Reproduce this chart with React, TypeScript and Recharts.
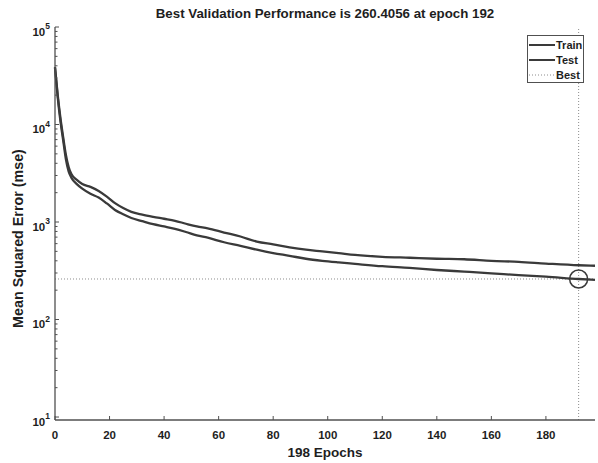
import { LineChart, Line, XAxis, YAxis, ReferenceLine, ReferenceDot, Legend } from 'recharts';

// performance curve (mse per epoch)
const epochs = [0, 1, 2, 3, 4, 5, 6, 8, 10, 13, 16, 19, 22, 25, 28, 32, 36, 40, 44, 48, 52, 56, 62, 68, 74, 80, 86, 92, 98, 104, 110, 120, 130, 140, 150, 160, 170, 180, 192, 198];
const trainMse = [38900, 20000, 11600, 7400, 4880, 3670, 3100, 2700, 2450, 2290, 2080, 1820, 1560, 1390, 1270, 1190, 1130, 1080, 1030, 960, 900, 860, 780, 710, 630, 590, 550, 520, 500, 480, 460, 440, 430, 420, 415, 400, 390, 375, 360, 356];
const testMse = [38000, 19000, 10800, 6900, 4400, 3300, 2850, 2450, 2200, 1950, 1780, 1550, 1330, 1200, 1100, 1020, 950, 900, 850, 790, 730, 690, 620, 570, 520, 480, 450, 420, 400, 385, 372, 352, 338, 322, 310, 298, 285, 275, 260.4, 255];

const seriesNames = ['Train', 'Test'];
const bestEpoch = 192;
const bestValue = 260.4056;
const totalEpochs = 198;

const xTicks = [0, 20, 40, 60, 80, 100, 120, 140, 160, 180];
const yMajor = [10, 100, 1000, 10000, 100000];
const yMinorSteps = [2, 3, 4, 5, 6, 7, 8, 9];
const yTicks = [...yMajor, ...yMajor.slice(0, -1).flatMap((d) => yMinorSteps.map((m) => d * m))];

const FONT = '"Liberation Sans", Arial, Helvetica, sans-serif';
const INK = '#1e1e1e';
const AXIS = '#505050';
const CURVE = '#3a3a3a';
const DOTTED = '#8c8c8c';

const data = epochs.map((e, i) => ({ epoch: e, train: trainMse[i], test: testMse[i] }));

function YTick(props: any) {
  const { x, y, payload } = props;
  const v = payload.value;
  const ax = x + 5;
  const major = yMajor.includes(v);
  return (
    <g>
      <line x1={ax} x2={ax + (major ? 4 : 2.5)} y1={y} y2={y} stroke={AXIS} strokeWidth={1} />
      {major && (
        <text x={x} y={y + 8.5} textAnchor="end" fontFamily={FONT} fontWeight={700} fontSize={11.5} fill={INK}>
          10<tspan dy={-6.5} fontSize={8.5}>{Math.round(Math.log10(v))}</tspan>
        </text>
      )}
    </g>
  );
}

function XTick(props: any) {
  const { x, y, payload } = props;
  return (
    <g>
      <line x1={x} x2={x} y1={y} y2={y - 4} stroke={AXIS} strokeWidth={1} />
      <text x={x} y={y + 18.5} textAnchor="middle" fontFamily={FONT} fontWeight={700} fontSize={11.5} fill={INK}>
        {payload.value}
      </text>
    </g>
  );
}

function LegendBox({ payload }: any) {
  const items = [...(payload || [])].sort((a: any, b: any) => seriesNames.indexOf(a.value) - seriesNames.indexOf(b.value));
  const rows = [
    ...items.map((p: any) => ({ name: p.value, dash: undefined as string | undefined, color: CURVE, w: 2 })),
    { name: 'Best', dash: '1 2', color: DOTTED, w: 1 },
  ];
  return (
    <svg width={57} height={48} style={{ display: 'block' }}>
      <rect x={0.5} y={0.5} width={56} height={47} fill="#fff" stroke={AXIS} strokeWidth={1} />
      {rows.map((r, i) => (
        <g key={r.name}>
          <line x1={2} x2={28} y1={10 + i * 15} y2={10 + i * 15} stroke={r.color} strokeWidth={r.w} strokeDasharray={r.dash} />
          <text x={29} y={14 + i * 15} fontFamily={FONT} fontWeight={700} fontSize={11} fill={INK}>{r.name}</text>
        </g>
      ))}
    </svg>
  );
}

export default function App() {
  return (
    <div style={{ position: 'absolute', left: 0, top: 0, width: 598, height: 463, background: '#fff', fontFamily: FONT }}>
      <div style={{ position: 'absolute', left: 55, width: 540, top: 5, textAlign: 'center', fontWeight: 700, fontSize: 13.3, color: INK, lineHeight: '18px', whiteSpace: 'nowrap' }}>
        Best Validation Performance is {bestValue} at epoch {bestEpoch}
      </div>
      <LineChart width={598} height={463} data={data} margin={{ top: 27, right: 3, bottom: 0, left: 0 }}>
        <XAxis
          dataKey="epoch"
          type="number"
          domain={[0, totalEpochs]}
          ticks={xTicks}
          interval={0}
          height={43}
          tickSize={0}
          tickMargin={0}
          tickLine={false}
          axisLine={{ stroke: AXIS, strokeWidth: 1.3 }}
          tick={(p: any) => <XTick {...p} />}
          label={{ value: `${totalEpochs} Epochs`, position: 'insideBottom', offset: 6, fill: INK, fontSize: 13.5, fontWeight: 700, fontFamily: FONT }}
        />
        <YAxis
          scale="log"
          domain={[9.32, 100000]}
          allowDataOverflow
          ticks={yTicks}
          interval={0}
          width={55}
          tickSize={0}
          tickMargin={5}
          tickLine={false}
          axisLine={{ stroke: AXIS, strokeWidth: 1.3 }}
          tick={(p: any) => <YTick {...p} />}
          label={{
            content: ({ viewBox }: any) => {
              const cx = 22.5;
              const cy = viewBox.y + viewBox.height / 2 + 15;
              return (
                <text x={cx} y={cy} transform={`rotate(-90 ${cx} ${cy})`} textAnchor="middle" fontFamily={FONT} fontWeight={700} fontSize={14.3} fill={INK}>
                  Mean Squared Error  (mse)
                </text>
              );
            },
          }}
        />
        <ReferenceLine y={bestValue} stroke={DOTTED} strokeDasharray="1 2" strokeWidth={1} />
        <ReferenceLine x={bestEpoch} stroke={DOTTED} strokeDasharray="1 2" strokeWidth={1} />
        <Line name={seriesNames[0]} dataKey="train" type="monotone" stroke={CURVE} strokeWidth={2.3} dot={false} isAnimationActive={false} />
        <Line name={seriesNames[1]} dataKey="test" type="monotone" stroke={CURVE} strokeWidth={2.3} dot={false} isAnimationActive={false} />
        <ReferenceDot x={bestEpoch} y={bestValue} r={9} fill="none" stroke={CURVE} strokeWidth={1.5} />
        <Legend
          layout="horizontal"
          verticalAlign="middle"
          align="center"
          wrapperStyle={{ top: 35, left: 527, width: 57, height: 48 }}
          content={(p: any) => <LegendBox {...p} />}
        />
      </LineChart>
    </div>
  );
}
